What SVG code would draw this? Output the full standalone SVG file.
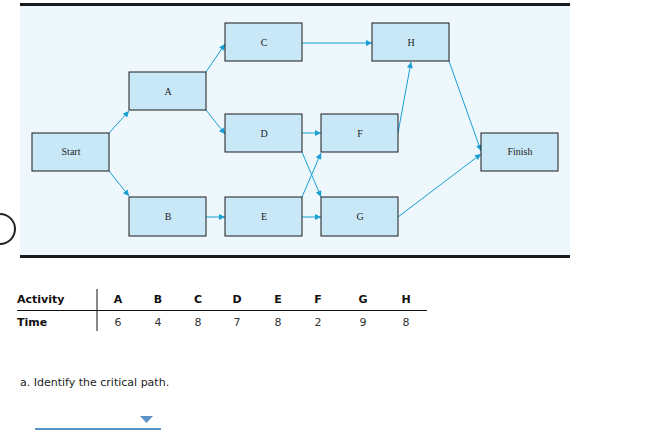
<svg xmlns="http://www.w3.org/2000/svg" width="663" height="441" viewBox="0 0 663 441">
<defs>
<marker id="ah" viewBox="0 0 10 10" refX="10" refY="5" markerWidth="8" markerHeight="6" orient="auto" markerUnits="userSpaceOnUse"><path d="M0,0 L10,5 L0,10 z" fill="#1a9fd4"/></marker>
<style>
.n{fill:#c9e8f7;stroke:#1a1a1a;stroke-width:1}
.t{font-family:"Liberation Serif",serif;font-size:10px;fill:#222;text-anchor:middle}
.c{stroke:#1a9fd4;stroke-width:1;fill:none;marker-end:url(#ah)}
.h{font-family:"DejaVu Sans",sans-serif;font-size:11px;font-weight:bold;fill:#111}
.v{font-family:"DejaVu Sans",sans-serif;font-size:11px;fill:#333;text-anchor:middle}
</style>
</defs>
<rect width="663" height="441" fill="#fff"/>
<rect x="20" y="5" width="550" height="251" fill="#eef7fc"/>
<rect x="20" y="3" width="550" height="3" fill="#1a1a1a"/>
<rect x="20" y="255" width="550" height="3" fill="#1a1a1a"/>
<path d="M0,214 A15,15 0 0 1 0,244" fill="none" stroke="#222" stroke-width="2"/>
<g id="connectors">
<line class="c" x1="109" y1="133" x2="129" y2="111"/>
<line class="c" x1="109" y1="171" x2="129" y2="196"/>
<line class="c" x1="206" y1="72" x2="225" y2="44"/>
<line class="c" x1="206" y1="110" x2="225" y2="134"/>
<line class="c" x1="302" y1="43" x2="372" y2="43"/>
<line class="c" x1="302" y1="133" x2="321" y2="133"/>
<line class="c" x1="302" y1="152" x2="321" y2="197"/>
<line class="c" x1="206" y1="217" x2="225" y2="217"/>
<line class="c" x1="302" y1="197" x2="321" y2="153"/>
<line class="c" x1="302" y1="217" x2="321" y2="217"/>
<line class="c" x1="398" y1="133" x2="411" y2="62"/>
<line class="c" x1="449" y1="61" x2="481" y2="151"/>
<line class="c" x1="398" y1="217" x2="481" y2="154"/>
</g>
<g id="Start"><rect class="n" x="32" y="133" width="77" height="38"/><text class="t" x="71" y="155">Start</text></g>
<g id="A"><rect class="n" x="129" y="72" width="77" height="38"/><text class="t" x="168" y="95">A</text></g>
<g id="C"><rect class="n" x="225" y="23" width="77" height="38"/><text class="t" x="264" y="46">C</text></g>
<g id="D"><rect class="n" x="225" y="114" width="77" height="38"/><text class="t" x="264" y="137">D</text></g>
<g id="B"><rect class="n" x="129" y="197" width="77" height="39"/><text class="t" x="168" y="220">B</text></g>
<g id="E"><rect class="n" x="225" y="197" width="77" height="39"/><text class="t" x="264" y="220">E</text></g>
<g id="F"><rect class="n" x="321" y="114" width="77" height="38"/><text class="t" x="360" y="137">F</text></g>
<g id="G"><rect class="n" x="321" y="197" width="77" height="39"/><text class="t" x="360" y="220">G</text></g>
<g id="H"><rect class="n" x="372" y="23" width="77" height="38"/><text class="t" x="411" y="46">H</text></g>
<g id="Finish"><rect class="n" x="481" y="133" width="77" height="38"/><text class="t" x="520" y="155">Finish</text></g>
<g id="table">
<line x1="97" y1="289" x2="97" y2="331" stroke="#111"/>
<line x1="17" y1="310.5" x2="427" y2="310.5" stroke="#111"/>
<text class="h" x="17" y="303">Activity</text>
<text class="h" x="17" y="326">Time</text>
<g class="h" text-anchor="middle">
<text x="118" y="303">A</text><text x="158" y="303">B</text><text x="198" y="303">C</text><text x="237" y="303">D</text><text x="278" y="303">E</text><text x="318" y="303">F</text><text x="363" y="303">G</text><text x="406" y="303">H</text>
</g>
<text class="v" x="118" y="326">6</text><text class="v" x="158" y="326">4</text><text class="v" x="198" y="326">8</text><text class="v" x="237" y="326">7</text><text class="v" x="278" y="326">8</text><text class="v" x="318" y="326">2</text><text class="v" x="363" y="326">9</text><text class="v" x="406" y="326">8</text>
</g>
<text x="20" y="386" font-family="DejaVu Sans,sans-serif" font-size="11" fill="#222">a. Identify the critical path.</text>
<line x1="35" y1="429" x2="161" y2="429" stroke="#5a93c6" stroke-width="2"/>
<path d="M140,416 L153,416 L146.5,423 z" fill="#5a93c6"/>
</svg>
